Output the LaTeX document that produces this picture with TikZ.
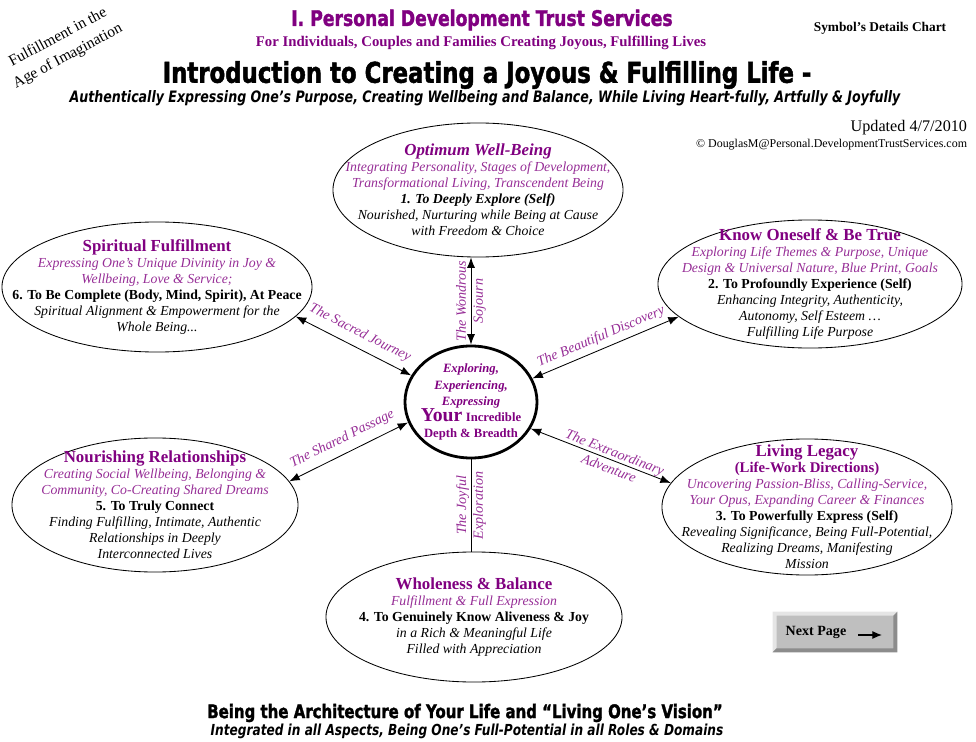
\documentclass[tikz,border=0pt]{standalone}
\usepackage{fontspec}
\setmainfont{Liberation Serif}
\newfontfamily\heavy[FakeStretch=0.8, BoldFeatures={FakeBold=1.6}]{DejaVu Sans}
\usetikzlibrary{shapes.geometric,arrows.meta}
\definecolor{plum}{RGB}{128,0,128}
\definecolor{lilac}{RGB}{150,45,150}

\begin{document}
\begin{tikzpicture}[x=0.025cm,y=-0.025cm,
    bubble/.style={ellipse, draw, line width=0.6pt, inner sep=0pt},
    blurb/.style={align=center, font=\fontsize{9.8}{11.4}\selectfont},
    link/.style={line width=0.6pt, {Latex[length=2.6mm,width=2mm]}-{Latex[length=2.6mm,width=2mm]}},
    tag/.style={midway, sloped, align=center, text=lilac, font=\fontsize{10}{12}\selectfont\itshape}]
    \useasboundingbox (0,0) rectangle (976,742);

    \node (brand) at (482,20)[text=plum, font=\heavy\bfseries\fontsize{15.3}{17}\selectfont]{I. Personal Development Trust Services};
    \node (audience) at (481,43)[text=plum, font=\bfseries\fontsize{10.5}{12}\selectfont]{For Individuals, Couples and Families Creating Joyous, Fulfilling Lives};
    \node (chart) at (880,28)[font=\bfseries\fontsize{9.5}{11}\selectfont]{Symbol’s Details Chart};
    \node (motto) at (63,47)[rotate=28, align=center, font=\fontsize{11}{15}\selectfont]{Fulfillment in the\\Age of Imagination};
    \node (title) at (487,75)[font=\heavy\bfseries\fontsize{20.3}{22}\selectfont]{Introduction to Creating a Joyous \& Fulfilling Life -};
    \node (subtitle) at (485,98)[font=\heavy\bfseries\itshape\fontsize{11.2}{13}\selectfont]{Authentically Expressing One’s Purpose, Creating Wellbeing and Balance, While Living Heart-fully, Artfully \& Joyfully};
    \node (updated) at (972,128)[anchor=east, font=\fontsize{11.5}{13}\selectfont]{Updated 4/7/2010};
    \node (owner) at (972,145)[anchor=east, font=\fontsize{8.5}{10}\selectfont]{© DouglasM@Personal.DevelopmentTrustServices.com};

    \node[bubble, minimum width=7.25cm, minimum height=3.35cm] (wellbeing) at (478,190){};
    \node[bubble, minimum width=7.75cm, minimum height=3.25cm] (spirit) at (157,287){};
    \node[bubble, minimum width=7.6cm, minimum height=3.2cm] (know) at (810,284){};
    \node[bubble, line width=2pt, minimum width=3.3cm, minimum height=2.8cm] (core) at (471,402){};
    \node[bubble, minimum width=7.25cm, minimum height=3.4cm] (legacy) at (807,507){};
    \node[bubble, minimum width=7.15cm, minimum height=3.35cm] (nourish) at (155,505){};
    \node[bubble, minimum width=7.4cm, minimum height=3.25cm] (whole) at (474,617){};

    \node[blurb] (wellbeing text) at (wellbeing){{\fontsize{12}{14}\selectfont\bfseries\itshape\color{plum}Optimum Well-Being}\\
        {\itshape\color{lilac}Integrating Personality, Stages of Development,}\\
        {\itshape\color{lilac}Transformational Living, Transcendent Being}\\
        {\bfseries\itshape 1. To Deeply Explore (Self)}\\
        {\itshape Nourished, Nurturing while Being at Cause}\\
        {\itshape with Freedom \& Choice}};
    \node[blurb] (spirit text) at (spirit){{\fontsize{12}{14}\selectfont\bfseries\color{plum}Spiritual Fulfillment}\\
        {\itshape\color{lilac}Expressing One’s Unique Divinity in Joy \&}\\
        {\itshape\color{lilac}Wellbeing, Love \& Service;}\\
        {\bfseries 6. To Be Complete (Body, Mind, Spirit), At Peace}\\
        {\itshape Spiritual Alignment \& Empowerment for the}\\
        {\itshape Whole Being...}};
    \node[blurb] (know text) at (know){{\fontsize{12}{14}\selectfont\bfseries\color{plum}Know Oneself \& Be True}\\
        {\itshape\color{lilac}Exploring Life Themes \& Purpose, Unique}\\
        {\itshape\color{lilac}Design \& Universal Nature, Blue Print, Goals}\\
        {\bfseries 2. To Profoundly Experience (Self)}\\
        {\itshape Enhancing Integrity, Authenticity,}\\
        {\itshape Autonomy, Self Esteem \dots}\\
        {\itshape Fulfilling Life Purpose}};
    \node[blurb] (core text) at (core){{\fontsize{9}{11}\selectfont\bfseries\itshape\color{plum}Exploring,}\\
        {\fontsize{9}{11}\selectfont\bfseries\itshape\color{plum}Experiencing,}\\
        {\fontsize{9}{11}\selectfont\bfseries\itshape\color{plum}Expressing}\\
        {\bfseries\color{plum}{\fontsize{14}{15}\selectfont Your} {\fontsize{9}{11}\selectfont Incredible}}\\
        {\fontsize{9}{11}\selectfont\bfseries\color{plum}Depth \& Breadth}};
    \node[blurb] (legacy text) at (legacy){{\fontsize{12}{14}\selectfont\bfseries\color{plum}Living Legacy}\\
        {\fontsize{10.5}{12}\selectfont\bfseries\color{plum}(Life-Work Directions)}\\
        {\itshape\color{lilac}Uncovering Passion-Bliss, Calling-Service,}\\
        {\itshape\color{lilac}Your Opus, Expanding Career \& Finances}\\
        {\bfseries 3. To Powerfully Express (Self)}\\
        {\itshape Revealing Significance, Being Full-Potential,}\\
        {\itshape Realizing Dreams, Manifesting}\\
        {\itshape Mission}};
    \node[blurb] (nourish text) at (nourish){{\fontsize{12}{14}\selectfont\bfseries\color{plum}Nourishing Relationships}\\
        {\itshape\color{lilac}Creating Social Wellbeing, Belonging \&}\\
        {\itshape\color{lilac}Community, Co-Creating Shared Dreams}\\
        {\bfseries 5. To Truly Connect}\\
        {\itshape Finding Fulfilling, Intimate, Authentic}\\
        {\itshape Relationships in Deeply}\\
        {\itshape Interconnected Lives}};
    \node[blurb] (whole text) at (whole){{\fontsize{12}{14}\selectfont\bfseries\color{plum}Wholeness \& Balance}\\
        {\itshape\color{lilac}Fulfillment \& Full Expression}\\
        {\bfseries 4. To Genuinely Know Aliveness \& Joy}\\
        {\itshape in a Rich \& Meaningful Life}\\
        {\itshape Filled with Appreciation}};

    \draw[link] (core.north) -- (core.north |- wellbeing.south) node[tag]{The Wondrous\\Sojourn};
    \draw[line width=0.6pt] (core.south |- whole.north) -- (core.south) node[tag]{The Joyful\\Exploration};
    \draw[link] (spirit.-12) -- (core.156) node[tag, above=2pt]{The Sacred Journey};
    \draw[link] (core.21) -- (know.194) node[tag, above]{The Beautiful Discovery};
    \draw[link] (nourish.10) -- (core.198) node[tag, above=2pt]{The Shared Passage};
    \draw[link] (core.-24) -- (legacy.170) node[tag, pos=0.58]{The Extraordinary\\Adventure};

    \node (next) at (835,632)[fill=black!25, minimum width=3.1cm, minimum height=1cm]{};
    \fill[black!10] (next.north west) -- (next.north east) -- ([shift={(-4,4)}]next.north east) -- ([shift={(4,4)}]next.north west) -- ([shift={(4,-4)}]next.south west) -- (next.south west) -- cycle;
    \fill[black!45] (next.south west) -- (next.south east) -- (next.north east) -- ([shift={(-4,4)}]next.north east) -- ([shift={(-4,-4)}]next.south east) -- ([shift={(4,-4)}]next.south west) -- cycle;
    \node (next label) at (816,632)[font=\bfseries\fontsize{10}{12}\selectfont]{Next Page};
    \coordinate (next tail) at (858,635);
    \coordinate (next head) at (882,635);
    \draw[line width=0.8pt, -{Latex[length=2.4mm,width=2mm]}] (next tail) -- (next head);

    \node (vision) at (465,713)[font=\heavy\bfseries\fontsize{13.3}{15}\selectfont]{Being the Architecture of Your Life and “Living One’s Vision”};
    \node (domains) at (467,731)[font=\heavy\bfseries\itshape\fontsize{10.8}{12}\selectfont]{Integrated in all Aspects, Being One’s Full-Potential in all Roles \& Domains};
\end{tikzpicture}
\end{document}
